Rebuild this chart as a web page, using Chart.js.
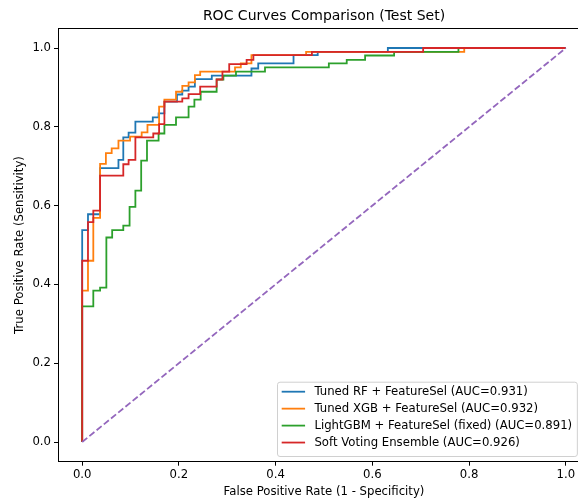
<!DOCTYPE html>
<html>
<head>
<meta charset="utf-8">
<script src="https://cdn.jsdelivr.net/npm/chart.js@4.4.0/dist/chart.umd.min.js"></script>
<style>
  html, body { margin: 0; padding: 0; background: #fff; overflow: hidden; }
  canvas { display: block; }
</style>
</head>
<body>
<canvas id="roc" width="600" height="499"></canvas>
<script>
/* globals Chart:false */

// ROC points (fpr, tpr)
const chartTitle = 'ROC Curves Comparison (Test Set)';
const modelNames = ['Tuned RF + FeatureSel', 'Tuned XGB + FeatureSel', 'LightGBM + FeatureSel (fixed)', 'Soft Voting Ensemble'];
const aucValues = [0.931, 0.932, 0.891, 0.926];

const rfFpr = [0, 0, 0.012, 0.012, 0.037, 0.037, 0.075, 0.075, 0.085, 0.085, 0.096, 0.096, 0.11, 0.11, 0.146, 0.146, 0.158, 0.158, 0.17, 0.17, 0.196, 0.196, 0.207, 0.207, 0.22, 0.22, 0.233, 0.233, 0.268, 0.268, 0.35, 0.35, 0.364, 0.364, 0.437, 0.437, 0.487, 0.487, 0.632, 0.632, 1];
const rfTpr = [0, 0.538, 0.538, 0.578, 0.578, 0.695, 0.695, 0.716, 0.716, 0.773, 0.773, 0.785, 0.785, 0.813, 0.813, 0.824, 0.824, 0.834, 0.834, 0.864, 0.864, 0.882, 0.882, 0.892, 0.892, 0.902, 0.902, 0.921, 0.921, 0.93, 0.93, 0.948, 0.948, 0.961, 0.961, 0.982, 0.982, 0.99, 0.99, 1, 1];

const xgbFpr = [0, 0, 0.012, 0.012, 0.023, 0.023, 0.037, 0.037, 0.049, 0.049, 0.061, 0.061, 0.075, 0.075, 0.099, 0.099, 0.123, 0.123, 0.135, 0.135, 0.159, 0.159, 0.17, 0.17, 0.194, 0.194, 0.207, 0.207, 0.22, 0.22, 0.233, 0.233, 0.244, 0.244, 0.316, 0.316, 0.328, 0.328, 0.35, 0.35, 0.463, 0.463, 0.79, 0.79, 1];
const xgbTpr = [0, 0.384, 0.384, 0.46, 0.46, 0.569, 0.569, 0.706, 0.706, 0.733, 0.733, 0.745, 0.745, 0.765, 0.765, 0.775, 0.775, 0.786, 0.786, 0.805, 0.805, 0.851, 0.851, 0.869, 0.869, 0.889, 0.889, 0.904, 0.904, 0.913, 0.913, 0.931, 0.931, 0.94, 0.94, 0.951, 0.951, 0.961, 0.961, 0.982, 0.982, 0.99, 0.99, 1, 1];

const lgbFpr = [0, 0, 0.023, 0.023, 0.037, 0.037, 0.05, 0.05, 0.062, 0.062, 0.085, 0.085, 0.098, 0.098, 0.11, 0.11, 0.122, 0.122, 0.134, 0.134, 0.158, 0.158, 0.17, 0.17, 0.194, 0.194, 0.22, 0.22, 0.232, 0.232, 0.245, 0.245, 0.278, 0.278, 0.292, 0.292, 0.318, 0.318, 0.378, 0.378, 0.51, 0.51, 0.547, 0.547, 0.585, 0.585, 0.645, 0.645, 0.778, 0.778, 1];
const lgbTpr = [0, 0.344, 0.344, 0.384, 0.384, 0.392, 0.392, 0.519, 0.519, 0.538, 0.538, 0.549, 0.549, 0.597, 0.597, 0.638, 0.638, 0.714, 0.714, 0.765, 0.765, 0.783, 0.783, 0.805, 0.805, 0.824, 0.824, 0.851, 0.851, 0.869, 0.869, 0.889, 0.889, 0.92, 0.92, 0.93, 0.93, 0.94, 0.94, 0.951, 0.951, 0.961, 0.961, 0.97, 0.97, 0.981, 0.981, 0.99, 0.99, 1, 1];

const ensFpr = [0, 0, 0.012, 0.012, 0.023, 0.023, 0.037, 0.037, 0.085, 0.085, 0.096, 0.096, 0.11, 0.11, 0.147, 0.147, 0.159, 0.159, 0.17, 0.17, 0.207, 0.207, 0.22, 0.22, 0.244, 0.244, 0.278, 0.278, 0.29, 0.29, 0.304, 0.304, 0.34, 0.34, 0.354, 0.354, 0.475, 0.475, 0.705, 0.705, 1];
const ensTpr = [0, 0.46, 0.46, 0.558, 0.558, 0.587, 0.587, 0.676, 0.676, 0.705, 0.705, 0.716, 0.716, 0.773, 0.773, 0.783, 0.783, 0.807, 0.807, 0.864, 0.864, 0.872, 0.872, 0.883, 0.883, 0.902, 0.902, 0.92, 0.92, 0.94, 0.94, 0.959, 0.959, 0.97, 0.97, 0.982, 0.982, 0.99, 0.99, 1, 1];

const chanceFpr = [0, 1];
const chanceTpr = [0, 1];

const xTickValues = [0, 0.2, 0.4, 0.6, 0.8, 1.0];
const yTickValues = [0, 0.2, 0.4, 0.6, 0.8, 1.0];

const FONT = '"DejaVu Sans", sans-serif';
const FS = 11.7;

function toPoints(xs, ys) {
  return xs.map((x, i) => ({ x: x, y: ys[i] }));
}

function rocSet(idx, xs, ys, color, order) {
  return {
    label: modelNames[idx] + ' (AUC=' + aucValues[idx].toFixed(3) + ')',
    data: toPoints(xs, ys),
    borderColor: color,
    backgroundColor: color,
    borderWidth: 1.8,
    pointRadius: 0,
    tension: 0,
    order: order
  };
}

// axes frame, title centred on the axes, legend box in the lower right
const frameAndLegend = {
  id: 'frameAndLegend',
  afterDatasetsDraw(chart) {
    const { ctx, chartArea: a } = chart;
    ctx.save();
    ctx.strokeStyle = '#000';
    ctx.lineWidth = 1;
    ctx.strokeRect(Math.round(a.left) + 0.5, Math.round(a.top) + 0.5,
      Math.round(a.right - a.left), Math.round(a.bottom - a.top));

    ctx.font = '14px ' + FONT;
    ctx.fillStyle = '#000';
    ctx.textAlign = 'center';
    ctx.textBaseline = 'middle';
    ctx.fillText(chartTitle, (a.left + a.right) / 2, 16.5);
    ctx.restore();
  },
  afterDraw(chart) {
    const { ctx, chartArea: a } = chart;
    const items = chart.data.datasets.filter(d => !d.isChance);
    ctx.save();
    ctx.font = FS + 'px ' + FONT;
    const maxW = Math.max(...items.map(d => ctx.measureText(d.label).width));
    const pad = 0.4 * FS, handle = 2 * FS, hpad = 0.8 * FS;
    const w = pad + handle + hpad + maxW + pad;
    const h = 74.3;
    const left = 277;
    const bottom = a.bottom - 5.7;
    const top = bottom - h;

    ctx.beginPath();
    ctx.roundRect(left + 0.5, top + 0.5, w, h, 2.5);
    ctx.fillStyle = 'rgba(255,255,255,0.8)';
    ctx.fill();
    ctx.strokeStyle = '#d0d0d0';
    ctx.lineWidth = 1;
    ctx.stroke();

    ctx.textBaseline = 'middle';
    ctx.textAlign = 'left';
    items.forEach((d, i) => {
      const cy = top + 10 + i * 16.95;
      ctx.beginPath();
      ctx.moveTo(left + pad, cy);
      ctx.lineTo(left + pad + handle, cy);
      ctx.strokeStyle = d.borderColor;
      ctx.lineWidth = 1.8;
      ctx.stroke();
      ctx.fillStyle = '#000';
      ctx.fillText(d.label, left + pad + handle + hpad, cy + 0.5);
    });
    ctx.restore();
  }
};

new Chart(document.getElementById('roc'), {
  type: 'line',
  data: {
    datasets: [
      rocSet(0, rfFpr, rfTpr, '#1f77b4', 5),
      rocSet(1, xgbFpr, xgbTpr, '#ff7f0e', 4),
      rocSet(2, lgbFpr, lgbTpr, '#2ca02c', 3),
      rocSet(3, ensFpr, ensTpr, '#d62728', 2),
      {
        label: 'chance',
        isChance: true,
        data: toPoints(chanceFpr, chanceTpr),
        borderColor: '#9467bd',
        borderWidth: 1.8,
        borderDash: [6.5, 2.8],
        pointRadius: 0,
        order: 1
      }
    ]
  },
  options: {
    responsive: false,
    animation: false,
    events: [],
    layout: { padding: { top: 28.3, right: 10, bottom: 0, left: 0 } },
    plugins: {
      legend: { display: false },
      tooltip: { enabled: false },
      title: { display: false }
    },
    scales: {
      x: {
        type: 'linear',
        min: -0.05,
        max: 1.05,
        afterBuildTicks: s => { s.ticks = xTickValues.map(v => ({ value: v })); },
        afterFit: s => { s.height = 37.3; },
        ticks: {
          callback: v => v.toFixed(1),
          color: '#000',
          font: { family: FONT, size: FS },
          padding: 2.5,
          maxRotation: 0,
          autoSkip: false
        },
        grid: { drawOnChartArea: false, drawTicks: true, tickLength: 4, color: '#000', lineWidth: 1 },
        border: { display: false },
        title: {
          display: true,
          text: 'False Positive Rate (1 - Specificity)',
          color: '#000',
          font: { family: FONT, size: FS },
          padding: { top: 0, bottom: 0 }
        }
      },
      y: {
        type: 'linear',
        min: -0.05,
        max: 1.05,
        afterBuildTicks: s => { s.ticks = yTickValues.map(v => ({ value: v })); },
        afterFit: s => { s.width = 58; },
        ticks: {
          callback: v => v.toFixed(1),
          color: '#000',
          font: { family: FONT, size: FS },
          padding: 3,
          autoSkip: false
        },
        grid: { drawOnChartArea: false, drawTicks: true, tickLength: 4, color: '#000', lineWidth: 1 },
        border: { display: false },
        title: {
          display: true,
          text: 'True Positive Rate (Sensitivity)',
          color: '#000',
          font: { family: FONT, size: FS },
          padding: { top: 12.5, bottom: 0 }
        }
      }
    }
  },
  plugins: [frameAndLegend]
});
</script>
</body>
</html>
